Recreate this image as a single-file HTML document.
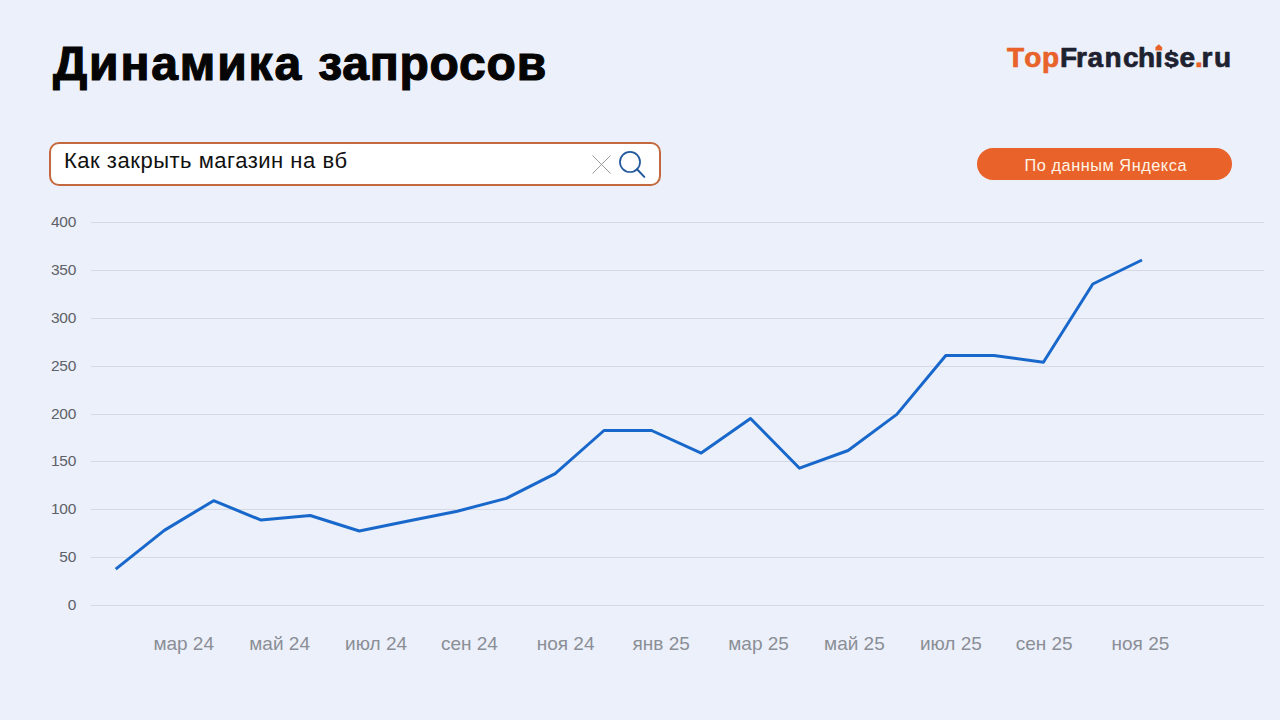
<!DOCTYPE html>
<html lang="ru">
<head>
<meta charset="utf-8">
<title>Динамика запросов</title>
<style>
html,body{margin:0;padding:0;}
body{width:1280px;height:720px;overflow:hidden;background:#ECF0FA;position:relative;font-family:"Liberation Sans",sans-serif;}
.abs{position:absolute;white-space:nowrap;}
#title{left:53px;top:39.5px;font-size:48px;font-weight:bold;color:#050505;line-height:1;letter-spacing:1.45px;-webkit-text-stroke:1.2px #050505;}
#search{left:49px;top:142px;width:608px;height:40px;border:2px solid #C4693F;border-radius:10px;background:#FFFFFF;}
#stext{left:64px;top:150.4px;font-size:22px;color:#111;line-height:1;letter-spacing:0.52px;}
#btn{left:977px;top:148px;width:255px;height:32px;border-radius:16px;background:#E8622A;}
#btext{left:978.3px;top:157.3px;width:255px;text-align:center;font-size:16.3px;color:#FFF4E6;line-height:1;letter-spacing:0.55px;}
.yl{position:absolute;right:1204px;font-size:15.5px;color:#5E6168;line-height:1;letter-spacing:-0.3px;}
.xl{position:absolute;top:634px;font-size:19px;color:#8A8E96;line-height:1;white-space:nowrap;}
svg{position:absolute;left:0;top:0;}
</style>
</head>
<body>
<div id="title" class="abs"><span style="letter-spacing:1.85px">Динамика </span><span style="letter-spacing:0.8px">запросов</span></div>
<svg width="1280" height="720" viewBox="0 0 1280 720" style="position:absolute;left:0;top:0">
  <g font-family="'Liberation Sans', sans-serif" font-weight="bold" font-size="28" stroke-width="0.7" stroke-linejoin="round">
    <text x="1006.94 1024.16 1041.9" y="66.6" fill="#E8622A" stroke="#E8622A">Top</text>
    <text x="1059.98 1076.1 1087.53 1104.5 1122.96 1138.1 1154.97 1163.67 1179.46" y="66.6" fill="#1E2230" stroke="#1E2230">Franchıse</text>
    <text x="1194.95" y="66.6" fill="#E8622A" stroke="#E8622A">.</text>
    <text x="1201.6 1214.01" y="66.6" fill="#1E2230" stroke="#1E2230">ru</text>
  </g>
  <path d="M1158.8 44.2 L1162.2 47.3 L1162.2 50.4 L1155.4 50.4 L1155.4 47.3 Z" fill="#E8622A"/>
  <rect x="1169.9" y="49.8" width="2.2" height="3" fill="#1E2230"/>
  <rect x="1169.9" y="66" width="2.2" height="2.4" fill="#1E2230"/>
</svg>

<div id="search" class="abs"></div>
<div id="stext" class="abs">Как закрыть магазин на вб</div>

<div id="btn" class="abs"></div>
<div id="btext" class="abs">По данным Яндекса</div>

<svg width="1280" height="720" viewBox="0 0 1280 720">
  <!-- X icon -->
  <path d="M592.5 155.5 L610.5 173.5 M610.5 155.5 L592.5 173.5" stroke="#8E8E8E" stroke-width="0.9" fill="none"/>
  <!-- magnifier -->
  <circle cx="630" cy="161.95" r="10.05" stroke="#21579C" stroke-width="1.7" fill="none"/>
  <path d="M637 169.3 L644.3 176.9" stroke="#21579C" stroke-width="2" fill="none" stroke-linecap="round"/>
  <!-- gridlines -->
  <g stroke="#D6D9E3" stroke-width="1">
    <line x1="91" x2="1264" y1="222.5" y2="222.5"/>
    <line x1="91" x2="1264" y1="270.5" y2="270.5"/>
    <line x1="91" x2="1264" y1="318.5" y2="318.5"/>
    <line x1="91" x2="1264" y1="366.5" y2="366.5"/>
    <line x1="91" x2="1264" y1="414.5" y2="414.5"/>
    <line x1="91" x2="1264" y1="461.5" y2="461.5"/>
    <line x1="91" x2="1264" y1="509.5" y2="509.5"/>
    <line x1="91" x2="1264" y1="557.5" y2="557.5"/>
    <line x1="91" x2="1264" y1="605.5" y2="605.5"/>
  </g>
  <polyline fill="none" stroke="#1868CC" stroke-width="3" stroke-linejoin="round" stroke-linecap="butt"
    points="115.7,569.1 164.3,530.4 213.6,500.7 261.1,520.1 310.2,515.5 359.3,531 408.3,521 457.3,511.2 506.3,498.4 555.2,473.6 604,430.5 651.6,430.5 701.2,453.1 750.5,418.5 799.5,468.2 848.1,450.5 896.8,414.4 945.8,355.5 993.9,355.5 1043.4,362.3 1092.8,284 1142,260"/>
</svg>

<div class="yl" style="top:214.1px">400</div>
<div class="yl" style="top:262.1px">350</div>
<div class="yl" style="top:310.1px">300</div>
<div class="yl" style="top:358.1px">250</div>
<div class="yl" style="top:406.1px">200</div>
<div class="yl" style="top:453.1px">150</div>
<div class="yl" style="top:501.1px">100</div>
<div class="yl" style="top:549.1px">50</div>
<div class="yl" style="top:597.1px">0</div>

<div class="xl" style="left:153.4px">мар 24</div>
<div class="xl" style="left:249.3px">май 24</div>
<div class="xl" style="left:345.1px">июл 24</div>
<div class="xl" style="left:440.9px">сен 24</div>
<div class="xl" style="left:536.7px">ноя 24</div>
<div class="xl" style="left:632.5px">янв 25</div>
<div class="xl" style="left:728.3px">мар 25</div>
<div class="xl" style="left:824.1px">май 25</div>
<div class="xl" style="left:919.9px">июл 25</div>
<div class="xl" style="left:1015.7px">сен 25</div>
<div class="xl" style="left:1111.5px">ноя 25</div>
</body>
</html>
